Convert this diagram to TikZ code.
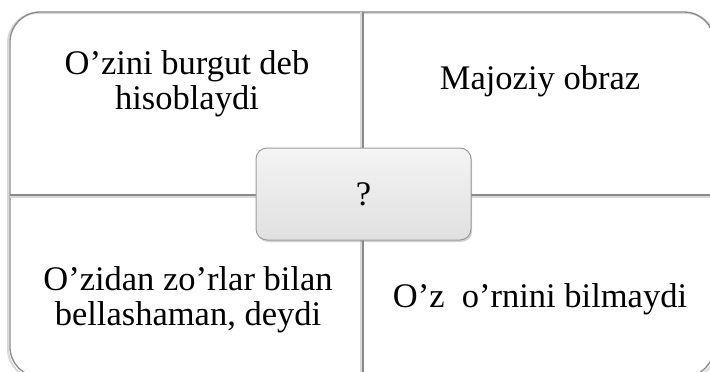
\documentclass[tikz,border=0pt]{standalone}
\usepackage{fontspec}
\setmainfont{Liberation Serif}
\usetikzlibrary{shadows}
\definecolor{framegray}{HTML}{8A8A8A}
\definecolor{boxtop}{HTML}{F4F4F4}
\definecolor{boxbot}{HTML}{E0E0E0}
\tikzset{
  quadtext/.style={font=\fontsize{34.5}{34.5}\selectfont, align=center, inner sep=0pt},
  frameline/.style={draw=framegray, line width=1.3pt},
  centerbox/.style={draw=framegray!85, line width=1pt, rounded corners=11pt,
    top color=boxtop, bottom color=boxbot,
    drop shadow={opacity=0.35, shadow xshift=1.2pt, shadow yshift=-2pt},
    minimum width=215pt, minimum height=92pt, inner sep=0pt,
    font=\fontsize{34.5}{34.5}\selectfont}
}
\begin{document}
\begin{tikzpicture}[x=1pt,y=-1pt]
\useasboundingbox (0,0) rectangle (710,372);
\clip (0,0) rectangle (710,372);
\fill[white] (0,0) rectangle (710,372);
% shadow of frame
\draw[gray!30, line width=2pt, rounded corners=30pt] (8,13) rectangle (716,379);
\draw[frameline, rounded corners=30pt] (10,12) rectangle (714,377);
\draw[gray!30, line width=1.5pt] (361,12) -- (361,377);
\draw[gray!30, line width=1.5pt] (10,197) -- (714,197);
\draw[frameline] (363,12) -- (363,377);
\draw[frameline] (10,195) -- (714,195);
\node[quadtext] (tl) at (187,84) {O’zini burgut deb\\hisoblaydi};
\node[quadtext] (tr) at (540,81) {Majoziy obraz};
\node[quadtext] (bl) at (188,300) {O’zidan zo’rlar bilan\\bellashaman, deydi};
\node[quadtext] (br) at (540,299) {O’z\ \ o’rnini bilmaydi};
\node[centerbox] (q) at (363.5,194) {?};
\end{tikzpicture}
\end{document}
